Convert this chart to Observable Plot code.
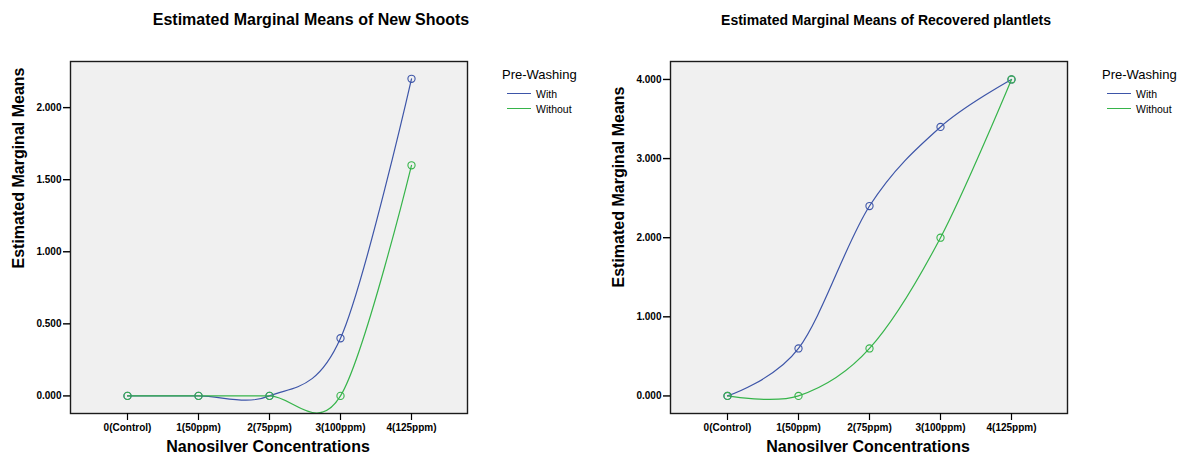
<!DOCTYPE html>
<html>
<head>
<meta charset="utf-8">
<script src="https://cdn.jsdelivr.net/npm/d3@7"></script>
<script src="https://cdn.jsdelivr.net/npm/@observablehq/plot@0.6"></script>
<style>
  html, body { margin: 0; padding: 0; background: #ffffff; }
  #root { position: relative; width: 1185px; height: 458px; overflow: hidden;
          font-family: Arial, "Liberation Sans", sans-serif; color: #000; }
  .abs { position: absolute; white-space: nowrap; }
  .title { font-weight: bold; transform: translate(-50%, -50%); }
  .xtitle { font-weight: bold; font-size: 16px; transform: translate(-50%, -50%); }
  .ytitle { font-weight: bold; font-size: 16px; transform: translate(-50%, -50%) rotate(-90deg); }
  .leg-h { font-size: 13px; transform: translateY(-50%); }
  .leg-t { font-size: 10.5px; transform: translateY(-50%); }
  .leg-l { height: 0; border-top: 1.3px solid; }
</style>
</head>
<body>
<div id="root"></div>
<script>
// ---- data ----
const concentrations = ["0(Control)", "1(50ppm)", "2(75ppm)", "3(100ppm)", "4(125ppm)"];
const groups = ["With", "Without"];
const shootsWith = [0, 0, 0, 0.4, 2.2];
const shootsWithout = [0, 0, 0, 0, 1.6];
const plantletsWith = [0, 0.6, 2.4, 3.4, 4.0];
const plantletsWithout = [0, 0, 0.6, 2.0, 4.0];
const shootsTicks = [0, 0.5, 1.0, 1.5, 2.0];
const plantletsTicks = [0, 1, 2, 3, 4];
const titles = ["Estimated Marginal Means of New Shoots", "Estimated Marginal Means of Recovered plantlets"];
const legendTitle = "Pre-Washing";
const xTitle = "Nanosilver Concentrations";
const yTitle = "Estimated Marginal Means";
const colors = ["#3d55a8", "#36b44a"];

function rows(withVals, withoutVals) {
  const out = [];
  groups.forEach((g, gi) => {
    const vals = gi === 0 ? withVals : withoutVals;
    concentrations.forEach((c, i) => out.push({ conc: c, group: g, value: vals[i] }));
  });
  return out;
}

const root = document.getElementById("root");

function panel(opts) {
  const data = rows(opts.withVals, opts.withoutVals);
  const chart = Plot.plot({
    width: opts.width,
    height: 458,
    marginLeft: 70,
    marginTop: 61,
    marginRight: opts.width - 467,
    marginBottom: 45,
    style: { fontFamily: "Arial, 'Liberation Sans', sans-serif", fontSize: "10px", fontWeight: "bold", background: "transparent", color: "#000", overflow: "visible" },
    x: { type: "point", domain: concentrations, padding: 0.78, label: null },
    y: { domain: opts.yDomain, label: null },
    color: { domain: groups, range: colors },
    marks: [
      Plot.frame({ fill: "#f0f0f0", stroke: "none" }),
      Plot.line(data, { x: "conc", y: "value", z: "group", stroke: "group", curve: "cardinal", tension: 0, strokeWidth: 1.2, clip: true }),
      Plot.dot(data, { x: "conc", y: "value", stroke: "group", r: 3.6, strokeWidth: 1.1, fill: "none" }),
      Plot.frame({ stroke: "#1b1b1b", strokeWidth: 1.4 }),
      Plot.axisY({ ticks: opts.yTicks, tickFormat: d3.format(".3f"), tickSize: 7, tickPadding: 2, strokeWidth: 1.4, label: null }),
      Plot.axisX({ tickSize: 7, tickPadding: 3, strokeWidth: 1.2, label: null })
    ]
  });
  const wrap = document.createElement("div");
  wrap.className = "abs";
  wrap.style.left = opts.left + "px";
  wrap.style.top = "0px";
  wrap.appendChild(chart);
  root.appendChild(wrap);

  const add = (cls, text, x, y, extra) => {
    const d = document.createElement("div");
    d.className = "abs " + cls;
    d.textContent = text;
    d.style.left = (opts.left + x) + "px";
    d.style.top = y + "px";
    if (extra) Object.assign(d.style, extra);
    root.appendChild(d);
    return d;
  };
  add("title", opts.title, opts.titleX, 20, { fontSize: opts.titleSize + "px" });
  add("xtitle", xTitle, 268, 447);
  add("ytitle", yTitle, 19, opts.yTitleY);
  add("leg-h", legendTitle, 502, 74);
  groups.forEach((g, i) => {
    const y = 94 + i * 14.5;
    const l = document.createElement("div");
    l.className = "abs leg-l";
    l.style.left = (opts.left + 507) + "px";
    l.style.top = (y - 0.6) + "px";
    l.style.width = "24px";
    l.style.borderTopColor = colors[i];
    root.appendChild(l);
    add("leg-t", g, 536, y);
  });
}

panel({ left: 0, width: 600, withVals: shootsWith, withoutVals: shootsWithout,
        yDomain: [-0.122, 2.32], yTicks: shootsTicks, title: titles[0], titleX: 311, titleSize: 16, yTitleY: 168 });
panel({ left: 600, width: 585, withVals: plantletsWith, withoutVals: plantletsWithout,
        yDomain: [-0.222, 4.227], yTicks: plantletsTicks, title: titles[1], titleX: 286, titleSize: 14, yTitleY: 187 });
</script>
</body>
</html>
